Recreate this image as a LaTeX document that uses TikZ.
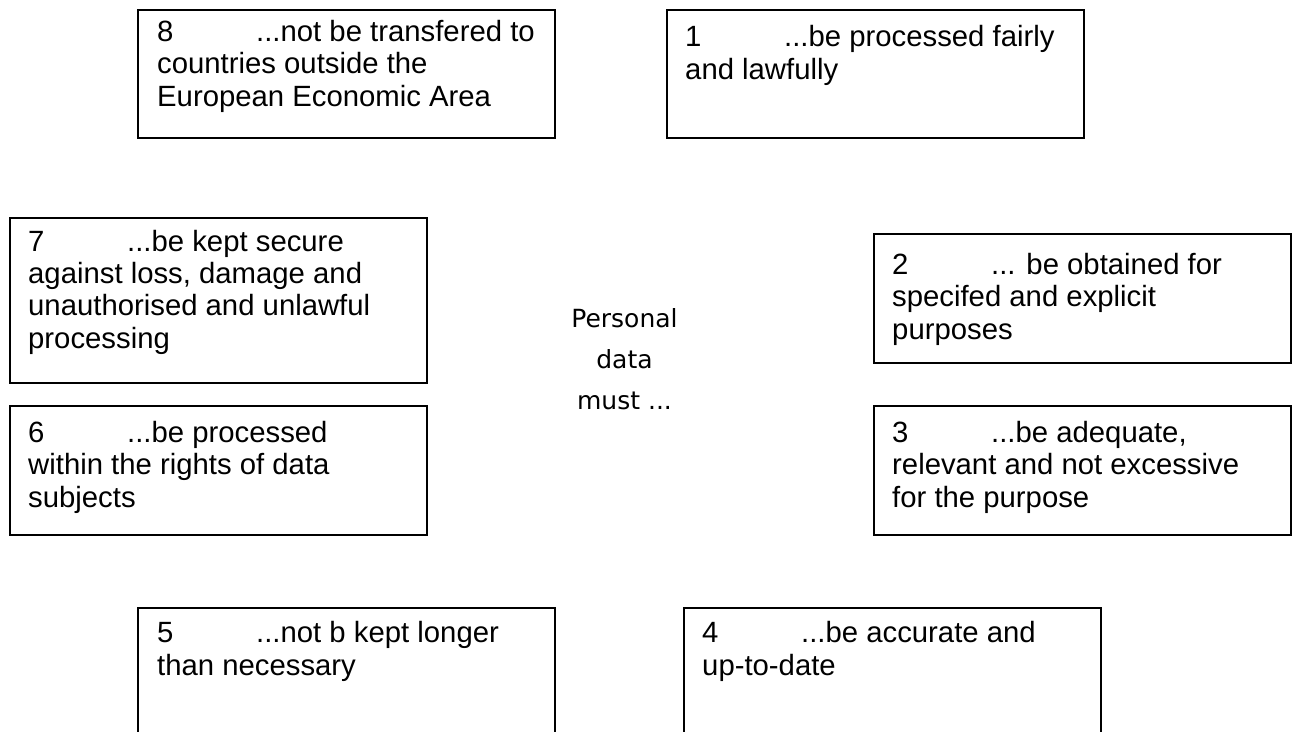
\documentclass[tikz,border=0pt]{standalone}
\usepackage{fontspec}
\setmainfont{Liberation Sans}
\newfontfamily\comicfont{DejaVu Sans}
\newcommand{\numtab}[1]{\makebox[99pt][l]{#1}}
\begin{document}
\begin{tikzpicture}[x=1pt,y=-1pt,
  pbox/.style={draw=black, line width=1.6pt, rectangle, anchor=north west, inner sep=0pt, minimum width=417pt},
  ptext/.style={anchor=base west, inner sep=0pt, align=left, font=\fontsize{29.3}{32.2}\selectfont},
  ctext/.style={anchor=base, inner sep=0pt, align=center, font=\comicfont\fontsize{25}{41}\selectfont}
  ]
\clip (0,0) rectangle (1292,731);
% boxes
\node[pbox, minimum height=128pt] (b8) at (137,9) {};
\node[pbox, minimum height=128pt] (b1) at (666,9) {};
\node[pbox, minimum height=165pt] (b7) at (9,217) {};
\node[pbox, minimum height=129pt] (b2) at (873,233) {};
\node[pbox, minimum height=129pt] (b6) at (9,405) {};
\node[pbox, minimum height=129pt] (b3) at (873,405) {};
\node[pbox, minimum height=160pt] (b5) at (137,607) {};
\node[pbox, minimum height=160pt] (b4) at (683,607) {};
% texts (anchored at the baseline of the last line)
\node[ptext] (t8) at (157,106) {\numtab{8}...not be transfered to\\countries outside the\\European Economic Area};
\node[ptext] (t1) at (685,79) {\numtab{1}...be processed fairly\\and lawfully};
\node[ptext] (t7) at (28,348) {\numtab{7}...be kept secure\\against loss, damage and\\unauthorised and unlawful\\processing};
\node[ptext] (t2) at (892,339) {\numtab{2}... be obtained for\\specifed and explicit\\purposes};
\node[ptext] (t6) at (28,507) {\numtab{6}...be processed\\within the rights of data\\subjects};
\node[ptext] (t3) at (892,507) {\numtab{3}...be adequate,\\relevant and not excessive\\for the purpose};
\node[ptext] (t5) at (157,675) {\numtab{5}...not b kept longer\\than necessary};
\node[ptext] (t4) at (702,675) {\numtab{4}...be accurate and\\up-to-date};
% centre
\node[ctext] (c) at (624.5,409) {Personal\\data\\must ...};
\end{tikzpicture}
\end{document}
